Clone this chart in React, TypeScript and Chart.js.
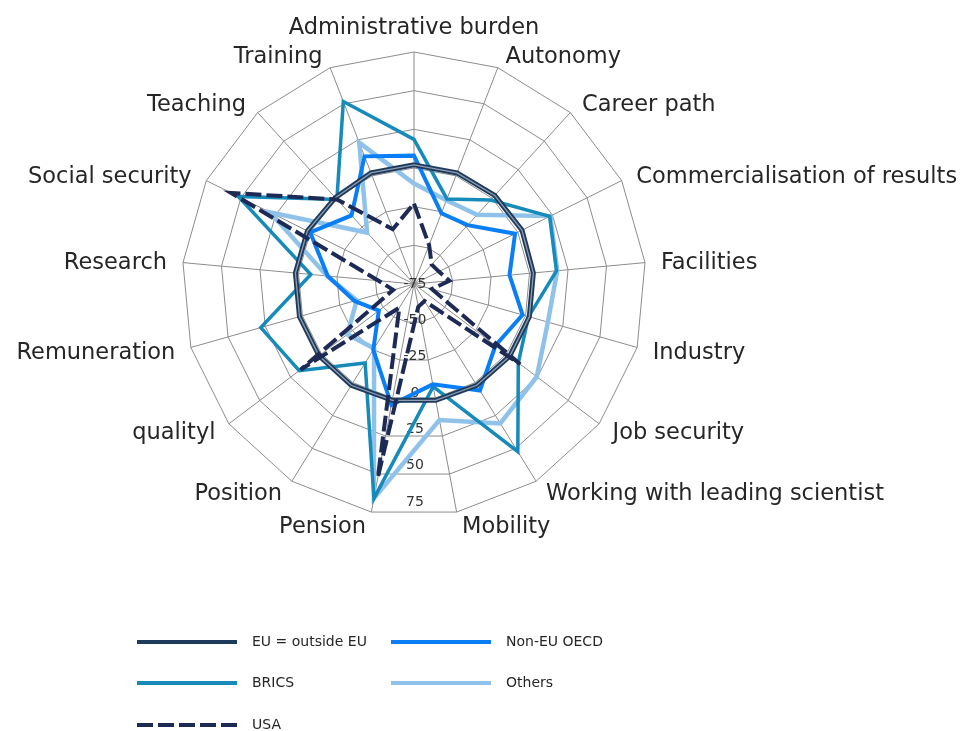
import React, { useEffect, useRef } from 'react';
import { Chart, registerables } from 'chart.js';

Chart.register(...registerables);

const categories = [
  'Administrative burden',
  'Autonomy',
  'Career path',
  'Commercialisation of results',
  'Facilities',
  'Industry',
  'Job security',
  'Working with leading scientist',
  'Mobility',
  'Pension',
  'Position',
  'qualityl',
  'Remuneration',
  'Research',
  'Social security',
  'Teaching',
  'Training',
];

const tickValues = [-75, -50, -25, 0, 25, 50, 75];

const euOutsideEu = [2, 2, 2.5, 3, 2.5, 2.5, 2.5, 2, 1.5, 1.5, 2, 2, 2, 2, 2, 0.5, 2];
const nonEuOecd = [8, -26, -23.5, -2, -13, -2, -9, 6, -9, 4.5, -25, -46.5, -35, -19, 0, -15, 13.5];
const brics = [18.5, -16, -1.5, 23, 17.5, 2, 9.5, 52.5, -7.5, 66, -15, 18, 28, -8, 52, -1, 51.5];
const others = [-10, -17, -14.5, 23.5, 18, 15, 24.5, 31, 14.5, 66, -26, -21, -36.5, -18.5, 29, -30, 23];
const usa = [-23, -48, -58, -57, -52, -63, 11, -62, -60, 52, -57, 17, -61, -52, 57, -1, -37];

const FONT = '"DejaVu Sans", sans-serif';
const TEXT = '#262626';
const GRID = '#8c8c8c';

type Series = {
  label: string;
  data: number[];
  color: string;
  width: number;
  dash: number[];
  order: number;
};

const seriesList: Series[] = [
  { label: 'EU = outside EU', data: euOutsideEu, color: '#1f3b5c', width: 5, dash: [], order: 3 },
  { label: 'Non-EU OECD', data: nonEuOecd, color: '#0a7ff5', width: 4, dash: [], order: 4 },
  { label: 'BRICS', data: brics, color: '#168bb9', width: 3.5, dash: [], order: 5 },
  { label: 'Others', data: others, color: '#8ec2ea', width: 4.5, dash: [], order: 6 },
  { label: 'USA', data: usa, color: '#1c2a55', width: 4, dash: [16, 5], order: 1 },
];

// legend grid: [column, row]
const legendSlots = [
  [0, 0],
  [1, 0],
  [0, 1],
  [1, 1],
  [0, 2],
];

const overlayPlugin = {
  id: 'overlayPlugin',
  beforeDatasetsDraw(chart: any) {
    const scale = chart.scales.r;
    const ctx = chart.ctx;
    ctx.save();
    ctx.font = `14px ${FONT}`;
    ctx.fillStyle = '#333333';
    ctx.textAlign = 'center';
    ctx.textBaseline = 'middle';
    tickValues.forEach((v) => {
      const d = scale.getDistanceFromCenterForValue(v);
      ctx.fillText(String(v), scale.xCenter + 1, scale.yCenter + d * 0.94);
    });
    ctx.restore();
  },
  afterDraw(chart: any) {
    const scale = chart.scales.r;
    const ctx = chart.ctx;
    ctx.save();
    // point labels
    ctx.font = `22.5px ${FONT}`;
    ctx.fillStyle = TEXT;
    ctx.textBaseline = 'middle';
    categories.forEach((name, i) => {
      const ang = scale.getIndexAngle(i);
      const s = Math.sin(ang);
      const pos = scale.getPointPosition(i, scale.drawingArea + 13);
      if (Math.abs(s) < 0.05) {
        ctx.textAlign = 'center';
        ctx.fillText(name, pos.x, pos.y - 11);
      } else if (s > 0) {
        ctx.textAlign = 'left';
        ctx.fillText(name, pos.x + 3, pos.y + 2);
      } else {
        ctx.textAlign = 'right';
        ctx.fillText(name, pos.x - 3, pos.y + 2);
      }
    });
    // legend
    const colLine = [137, 391];
    const colText = [252, 506];
    const rowY = [642, 683, 725];
    ctx.font = `14px ${FONT}`;
    ctx.textAlign = 'left';
    seriesList.forEach((s, k) => {
      const [c, r] = legendSlots[k];
      const y = rowY[r];
      ctx.beginPath();
      ctx.strokeStyle = s.color;
      ctx.lineWidth = 4;
      ctx.setLineDash(s.dash);
      ctx.moveTo(colLine[c], y);
      ctx.lineTo(colLine[c] + 100, y);
      ctx.stroke();
      ctx.setLineDash([]);
      ctx.fillStyle = TEXT;
      ctx.fillText(s.label, colText[c], y);
    });
    ctx.restore();
  },
};

export default function App() {
  const ref = useRef<HTMLCanvasElement>(null);

  useEffect(() => {
    const canvas = ref.current;
    if (!canvas) return;
    const datasets: any[] = seriesList.map((s) => ({
      label: s.label,
      data: s.data,
      borderColor: s.color,
      backgroundColor: 'transparent',
      borderWidth: s.width,
      borderDash: s.dash,
      fill: false,
      order: s.order,
      pointRadius: 0,
      pointHoverRadius: 0,
      borderJoinStyle: 'miter',
    }));
    // light inner stroke of the compound EU line
    datasets.push({
      label: 'EU = outside EU (inner)',
      data: euOutsideEu,
      borderColor: '#8d9db2',
      backgroundColor: 'transparent',
      borderWidth: 1.3,
      fill: false,
      order: 2,
      pointRadius: 0,
      pointHoverRadius: 0,
      borderJoinStyle: 'miter',
    });

    const chart = new Chart(canvas, {
      type: 'radar',
      data: { labels: categories, datasets },
      options: {
        responsive: false,
        animation: false,
        events: [],
        layout: { padding: { left: 182, top: 52, right: 319, bottom: 244 } },
        plugins: {
          legend: { display: false },
          tooltip: { enabled: false },
        },
        elements: { line: { tension: 0 } },
        scales: {
          r: {
            min: -75,
            max: 75,
            startAngle: 0,
            ticks: { stepSize: 25, display: false },
            grid: { color: GRID, lineWidth: 1 },
            angleLines: { color: GRID, lineWidth: 1 },
            pointLabels: { display: false },
          },
        },
      } as any,
      plugins: [overlayPlugin],
    });
    return () => chart.destroy();
  }, []);

  return (
    <div
      style={{
        position: 'fixed',
        left: 0,
        top: 0,
        width: 965,
        height: 731,
        overflow: 'hidden',
        background: '#ffffff',
      }}
    >
      <canvas ref={ref} width={965} height={760} style={{ display: 'block' }} />
    </div>
  );
}
